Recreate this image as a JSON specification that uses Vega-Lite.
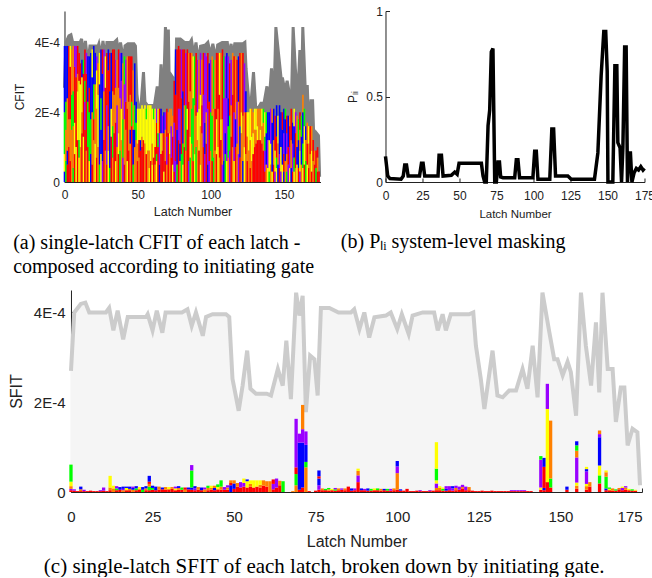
{
"$schema": "https://vega.github.io/schema/vega-lite/v6.json",
"padding": {"left": 8, "top": 5, "right": 0, "bottom": 0},
"background": "white",
"config": {
  "view": {"stroke": null},
  "scale": {"continuousPadding": 0},
  "axis": {"grid": false, "domainColor": "#222", "tickColor": "#222", "labelColor": "#222", "titleColor": "#222", "labelFont": "Liberation Sans", "titleFont": "Liberation Sans", "titleFontWeight": "normal", "domainWidth": 1, "labelOverlap": false, "labelFlush": false},
  "title": {"font": "Liberation Serif", "fontWeight": "normal", "color": "#000"}
},
"datasets": {
"env": [{"x":0,"v":2.7},{"x":1,"v":4.0},{"x":3,"v":4.19},{"x":4.4,"v":4.22},{"x":5.6,"v":4.0},{"x":10.7,"v":4.0},{"x":11.7,"v":4.1},{"x":13,"v":3.6},{"x":14.3,"v":4.04},{"x":16,"v":3.4},{"x":17.4,"v":3.9},{"x":23,"v":3.9},{"x":23.5,"v":3.96},{"x":25,"v":3.6},{"x":26.3,"v":4.04},{"x":28,"v":3.55},{"x":29,"v":4.0},{"x":34,"v":4.0},{"x":35.7,"v":4.07},{"x":37,"v":3.7},{"x":38.3,"v":4.0},{"x":40.4,"v":3.48},{"x":41.4,"v":3.9},{"x":43.4,"v":3.96},{"x":47.5,"v":3.96},{"x":48.5,"v":3.9},{"x":49.5,"v":2.52},{"x":51.4,"v":1.81},{"x":52.6,"v":2.37},{"x":54,"v":3.15},{"x":55,"v":2.3},{"x":56.7,"v":2.19},{"x":60,"v":2.19},{"x":61.3,"v":2.15},{"x":63.4,"v":2.74},{"x":64.9,"v":2.37},{"x":66,"v":3.37},{"x":67.4,"v":2.07},{"x":69,"v":4.44},{"x":70,"v":3.93},{"x":71,"v":4.37},{"x":72,"v":1.78},{"x":73.3,"v":3.04},{"x":74.6,"v":2.96},{"x":75.6,"v":2.15},{"x":76.6,"v":4.1},{"x":79.2,"v":4.1},{"x":82,"v":4.0},{"x":85.8,"v":4.0},{"x":86.8,"v":4.07},{"x":88.4,"v":3.63},{"x":89.9,"v":4.0},{"x":91.4,"v":3.44},{"x":93,"v":3.89},{"x":96.5,"v":3.93},{"x":98,"v":4.0},{"x":100,"v":3.63},{"x":101.4,"v":3.96},{"x":103.5,"v":3.52},{"x":104.7,"v":3.93},{"x":107.8,"v":4.0},{"x":111.3,"v":4.0},{"x":112.4,"v":3.6},{"x":113.9,"v":3.96},{"x":114.9,"v":3.6},{"x":116.4,"v":3.96},{"x":122,"v":3.96},{"x":123.3,"v":4.0},{"x":124.1,"v":3.26},{"x":125.6,"v":2.52},{"x":126.7,"v":1.85},{"x":127.7,"v":2.37},{"x":129.2,"v":3.15},{"x":130.7,"v":2.15},{"x":132.3,"v":2.11},{"x":134.3,"v":2.26},{"x":136.4,"v":2.26},{"x":138.4,"v":2.74},{"x":139.9,"v":2.3},{"x":141.5,"v":3.26},{"x":143,"v":2.11},{"x":144.5,"v":4.44},{"x":146.6,"v":3.56},{"x":148.1,"v":2.96},{"x":149.1,"v":2.96},{"x":150.7,"v":2.6},{"x":152.2,"v":2.9},{"x":153.2,"v":2.67},{"x":154.8,"v":1.7},{"x":156.3,"v":4.44},{"x":157.8,"v":3.26},{"x":159.4,"v":2.37},{"x":160.9,"v":3.78},{"x":161.9,"v":2.22},{"x":162.9,"v":4.44},{"x":164.5,"v":2.74},{"x":166,"v":2.74},{"x":167,"v":1.56},{"x":168.5,"v":2.33},{"x":169.6,"v":2.33},{"x":170.6,"v":1.04},{"x":172.1,"v":1.41},{"x":173.6,"v":1.33},{"x":174.4,"v":0.15}],
"sa": [
{"x":0,"c":["b","y","g","b"],"v":[0.3,0.5,1.2,1.9]},
{"x":1,"c":["g","o","g","b"],"v":[0.6,0.9,0.8,1.6]},
{"x":2,"c":["r","b","o","b"],"v":[0.5,0.4,1.5,1.5]},
{"x":3,"c":["r","o","r"],"v":[1.0,0.8,2.1]},
{"x":4,"c":["r","o","r","y"],"v":[0.6,1.2,1.5,0.6]},
{"x":5,"c":["o","g","o"],"v":[1.5,1.0,1.3]},
{"x":6,"c":["g","o","g","o"],"v":[0.4,1.2,1.0,1.3]},
{"x":7,"c":["r","y","r","p"],"v":[0.8,0.9,1.6,0.6]},
{"x":8,"c":["y","r","p"],"v":[1.0,2.0,0.9]},
{"x":9,"c":["r","y","o","r"],"v":[1.2,1.4,0.5,0.8]},
{"x":10,"c":["y","g","y","r"],"v":[0.7,0.5,1.7,0.8]},
{"x":11,"c":["o","y","r"],"v":[1.0,1.8,0.6]},
{"x":12,"c":["r","o","y","b"],"v":[1.4,0.6,1.0,0.5]},
{"x":13,"c":["y","r","g"],"v":[1.3,1.8,0.4]},
{"x":14,"c":["r","p","g","r"],"v":[1.5,0.8,0.6,0.9]},
{"x":15,"c":["o","r","p"],"v":[0.9,2.2,0.6]},
{"x":16,"c":["r","g","b"],"v":[1.0,1.3,1.3]},
{"x":17,"c":["y","g","r","b"],"v":[0.6,1.4,0.7,0.9]},
{"x":18,"c":["b","g","b"],"v":[0.8,1.0,1.9]},
{"x":19,"c":["r","o","b","y"],"v":[0.5,1.5,1.0,0.8]},
{"x":20,"c":["o","r","g","b"],"v":[1.2,0.6,1.0,1.1]},
{"x":21,"c":["y","o","b"],"v":[1.1,1.7,0.9]},
{"x":22,"c":["r","o","y","p"],"v":[0.7,1.4,1.1,0.4]},
{"x":23,"c":["o","y","o"],"v":[1.0,1.5,0.9]},
{"x":24,"c":["g","b","y"],"v":[0.5,2.3,0.9]},
{"x":25,"c":["y","b","g","b"],"v":[0.8,0.7,0.9,1.4]},
{"x":26,"c":["p","b","r"],"v":[0.6,2.5,0.7]},
{"x":27,"c":["r","o","p"],"v":[1.2,1.4,1.2]},
{"x":28,"c":["o","r","y"],"v":[0.9,1.8,0.9]},
{"x":29,"c":["r","p","r"],"v":[0.5,1.7,1.5]},
{"x":30,"c":["y","o","r","b"],"v":[0.9,0.7,1.6,0.6]},
{"x":31,"c":["g","b","r"],"v":[0.4,2.2,1.1]},
{"x":32,"c":["r","y","b"],"v":[1.3,0.8,1.6]},
{"x":33,"c":["o","g","o","r"],"v":[0.7,0.9,1.0,1.2]},
{"x":34,"c":["r","o","r"],"v":[1.4,1.1,1.3]},
{"x":35,"c":["y","r","o","p"],"v":[0.6,1.1,1.0,0.8]},
{"x":36,"c":["o","p","o"],"v":[1.0,1.2,1.3]},
{"x":37,"c":["r","y","o","r"],"v":[0.8,0.6,1.3,1.1]},
{"x":38,"c":["g","o","p"],"v":[0.9,1.5,1.3]},
{"x":39,"c":["o","y","p","b"],"v":[1.2,0.9,0.8,0.8]},
{"x":40,"c":["p","g","o"],"v":[0.7,1.1,1.6]},
{"x":41,"c":["r","o","p","g"],"v":[0.5,1.3,1.0,0.8]},
{"x":42,"c":["o","r","p"],"v":[1.5,0.8,1.2]},
{"x":43,"c":["y","r","o"],"v":[0.6,1.5,1.5]},
{"x":44,"c":["r","o","r"],"v":[0.9,1.4,1.3]},
{"x":45,"c":["o","b","o","r"],"v":[1.1,0.4,1.0,1.1]},
{"x":46,"c":["r","g","r"],"v":[1.6,0.7,1.3]},
{"x":47,"c":["g","b","o"],"v":[0.5,1.0,1.7]},
{"x":48,"c":["o","b","g","b"],"v":[1.0,0.5,0.7,1.2]},
{"x":49,"c":["o","g","b"],"v":[1.2,0.5,0.6]},
{"x":50,"c":["r","o","y"],"v":[0.6,0.5,1.0]},
{"x":51,"c":["o","r","y"],"v":[0.7,0.5,0.9]},
{"x":52,"c":["r","b","y"],"v":[0.9,0.3,0.9]},
{"x":53,"c":["r","o","y"],"v":[1.0,0.3,0.9]},
{"x":54,"c":["r","y"],"v":[1.2,0.9]},
{"x":55,"c":["o","y"],"v":[1.1,1.1]},
{"x":56,"c":["r","y","g"],"v":[0.8,1.0,0.3]},
{"x":57,"c":["o","y"],"v":[0.9,1.3]},
{"x":58,"c":["y","o","y"],"v":[0.4,0.5,1.3]},
{"x":59,"c":["r","y"],"v":[0.6,1.6]},
{"x":60,"c":["y","o","y"],"v":[0.5,0.6,1.0]},
{"x":61,"c":["r","y","g"],"v":[0.7,1.1,0.3]},
{"x":62,"c":["o","r","y"],"v":[0.5,0.5,1.1]},
{"x":63,"c":["y","g","r","p"],"v":[0.6,0.2,0.9,0.4]},
{"x":64,"c":["r","g","y"],"v":[1.0,0.4,0.7]},
{"x":65,"c":["b","p","r"],"v":[0.5,0.9,0.7]},
{"x":66,"c":["r","y","b"],"v":[0.8,0.6,0.7]},
{"x":67,"c":["r","o","p"],"v":[0.9,0.5,0.5]},
{"x":68,"c":["y","r","b"],"v":[0.3,1.1,0.6]},
{"x":69,"c":["r","o","p"],"v":[0.6,0.9,0.5]},
{"x":70,"c":["o","p","r"],"v":[0.5,0.8,0.8]},
{"x":71,"c":["r","o"],"v":[1.4,0.6]},
{"x":72,"c":["o","y","o"],"v":[0.8,0.6,0.7]},
{"x":73,"c":["r","p","o"],"v":[0.7,0.9,0.5]},
{"x":74,"c":["y","r","o"],"v":[0.5,0.8,0.6]},
{"x":75,"c":["r","p","r"],"v":[0.3,1.4,1.2]},
{"x":76,"c":["p","r","b"],"v":[0.6,1.9,1.3]},
{"x":77,"c":["g","b","r"],"v":[0.5,1.0,2.3]},
{"x":78,"c":["r","p","r"],"v":[1.2,0.9,1.8]},
{"x":79,"c":["o","b","p","r"],"v":[0.6,0.5,1.0,1.7]},
{"x":80,"c":["g","r","p"],"v":[0.8,1.6,1.4]},
{"x":81,"c":["y","g","b","r"],"v":[0.5,0.6,1.5,1.2]},
{"x":82,"c":["r","o","r"],"v":[1.0,1.2,1.6]},
{"x":83,"c":["o","g","p"],"v":[0.9,1.3,1.5]},
{"x":84,"c":["r","y","r"],"v":[1.5,0.6,1.7]},
{"x":85,"c":["p","r","o"],"v":[0.6,1.7,1.4]},
{"x":86,"c":["g","y","o","r"],"v":[0.7,0.6,1.3,1.1]},
{"x":87,"c":["o","g","o"],"v":[1.1,1.0,1.6]},
{"x":88,"c":["r","g","y"],"v":[0.6,1.8,1.2]},
{"x":89,"c":["y","o","g"],"v":[0.8,1.4,1.4]},
{"x":90,"c":["g","o","r"],"v":[1.0,0.9,1.8]},
{"x":91,"c":["o","y","p"],"v":[1.2,0.8,1.5]},
{"x":92,"c":["r","y","o"],"v":[0.9,1.2,1.4]},
{"x":93,"c":["y","o","y","p"],"v":[0.5,1.1,0.9,1.2]},
{"x":94,"c":["o","r","o"],"v":[1.4,0.8,1.3]},
{"x":95,"c":["r","p","r"],"v":[1.0,1.5,1.2]},
{"x":96,"c":["p","b","p"],"v":[0.8,0.9,2.0]},
{"x":97,"c":["r","o","p"],"v":[1.1,0.9,1.6]},
{"x":98,"c":["b","p","r"],"v":[0.5,1.6,1.6]},
{"x":99,"c":["p","r","b"],"v":[0.6,1.7,1.1]},
{"x":100,"c":["o","g","p"],"v":[0.9,1.1,1.5]},
{"x":101,"c":["r","g","o"],"v":[0.6,1.3,1.7]},
{"x":102,"c":["g","o","g"],"v":[0.7,1.4,1.4]},
{"x":103,"c":["o","r","o"],"v":[0.9,1.2,1.4]},
{"x":104,"c":["r","y","r"],"v":[0.8,1.0,1.9]},
{"x":105,"c":["y","o","r"],"v":[1.0,1.1,1.6]},
{"x":106,"c":["o","r","y"],"v":[0.7,1.8,1.2]},
{"x":107,"c":["r","y","o"],"v":[1.2,0.6,1.9]},
{"x":108,"c":["p","o","r"],"v":[0.5,1.3,2.0]},
{"x":109,"c":["b","p","g"],"v":[0.6,1.8,1.2]},
{"x":110,"c":["g","b","p"],"v":[0.8,0.6,2.2]},
{"x":111,"c":["y","p","b"],"v":[0.6,1.8,1.3]},
{"x":112,"c":["o","g","b","p"],"v":[0.7,0.9,0.8,1.2]},
{"x":113,"c":["p","g","r"],"v":[0.9,1.0,1.5]},
{"x":114,"c":["r","o","p"],"v":[1.3,0.9,1.3]},
{"x":115,"c":["o","r","o"],"v":[1.0,1.5,1.2]},
{"x":116,"c":["y","p","r"],"v":[0.6,1.4,1.6]},
{"x":117,"c":["r","b","o"],"v":[1.0,0.8,1.8]},
{"x":118,"c":["o","p","r"],"v":[1.1,1.2,1.2]},
{"x":119,"c":["p","o","b"],"v":[0.8,1.5,1.3]},
{"x":120,"c":["r","b","r"],"v":[0.7,0.9,2.1]},
{"x":121,"c":["o","y","o"],"v":[1.4,0.6,1.7]},
{"x":122,"c":["b","o","r"],"v":[0.6,1.3,1.8]},
{"x":123,"c":["y","o","p"],"v":[1.0,1.0,1.4]},
{"x":124,"c":["o","r","b"],"v":[0.8,1.2,0.6]},
{"x":125,"c":["r","o","y"],"v":[0.6,0.7,0.7]},
{"x":126,"c":["o","y"],"v":[0.9,1.1]},
{"x":127,"c":["r","o","y"],"v":[0.4,0.8,0.9]},
{"x":128,"c":["o","y","o"],"v":[0.6,0.7,0.8]},
{"x":129,"c":["r","y","o"],"v":[0.8,0.6,0.6]},
{"x":130,"c":["r","o","y"],"v":[1.0,0.5,0.6]},
{"x":131,"c":["r","o","y"],"v":[1.1,0.4,0.6]},
{"x":132,"c":["r","y","o"],"v":[1.2,0.4,0.5]},
{"x":133,"c":["r","o"],"v":[1.2,0.9]},
{"x":134,"c":["r","y","o"],"v":[1.2,0.3,0.6]},
{"x":135,"c":["r","o","y"],"v":[1.1,0.5,0.5]},
{"x":136,"c":["r","o","g"],"v":[0.9,0.8,0.4]},
{"x":137,"c":["r","p","g","y"],"v":[0.3,0.6,0.4,0.7]},
{"x":138,"c":["o","b","g"],"v":[0.5,0.9,0.6]},
{"x":139,"c":["y","p","b"],"v":[0.4,0.8,0.8]},
{"x":140,"c":["g","y","b"],"v":[0.3,0.9,0.8]},
{"x":141,"c":["o","y","p"],"v":[0.5,0.6,1.0]},
{"x":142,"c":["y","b","o"],"v":[0.3,1.4,0.4]},
{"x":143,"c":["r","o","b"],"v":[0.5,0.7,0.9]},
{"x":144,"c":["p","y","r"],"v":[0.3,0.6,1.0]},
{"x":145,"c":["y","g","r","b"],"v":[0.4,0.3,0.6,0.9]},
{"x":146,"c":["b","o","y"],"v":[0.5,0.6,0.8]},
{"x":147,"c":["r","p","b"],"v":[0.4,0.4,1.4]},
{"x":148,"c":["p","y","b"],"v":[0.3,0.7,1.0]},
{"x":149,"c":["y","b","r"],"v":[0.5,1.0,0.5]},
{"x":150,"c":["b","r","p","b"],"v":[0.3,0.5,0.6,0.7]},
{"x":151,"c":["o","b","g"],"v":[0.6,1.2,0.3]},
{"x":152,"c":["g","o","p","r"],"v":[0.3,0.5,0.6,0.5]},
{"x":153,"c":["p","r","b"],"v":[0.5,0.5,0.9]},
{"x":154,"c":["y","p","r","o"],"v":[0.4,0.6,0.6,0.3]},
{"x":155,"c":["b","o","r"],"v":[0.4,0.8,0.9]},
{"x":156,"c":["r","p","b"],"v":[0.3,0.8,0.6]},
{"x":157,"c":["y","g","b","y"],"v":[0.3,0.4,0.9,0.5]},
{"x":158,"c":["o","r","p"],"v":[0.4,1.0,0.6]},
{"x":159,"c":["y","b","o"],"v":[0.5,0.5,0.9]},
{"x":160,"c":["r","b","g"],"v":[0.4,0.8,0.6]},
{"x":161,"c":["p","y","o","r"],"v":[0.3,0.6,0.6,0.5]},
{"x":162,"c":["o","b","g"],"v":[0.5,0.8,0.6]},
{"x":163,"c":["y","g","b","o"],"v":[0.4,0.7,0.9,0.5]},
{"x":164,"c":["r","y","g"],"v":[0.5,1.1,0.5]},
{"x":165,"c":["g","o","b"],"v":[0.6,0.6,0.4]},
{"x":166,"c":["y","r","o"],"v":[0.5,0.6,0.6]},
{"x":167,"c":["r","o","y"],"v":[0.4,0.7,0.5]},
{"x":168,"c":["o","r"],"v":[0.8,0.8]},
{"x":169,"c":["r","y","o"],"v":[0.3,0.6,0.7]},
{"x":170,"c":["o","r"],"v":[0.6,0.6]},
{"x":171,"c":["r","o"],"v":[0.5,0.4]},
{"x":172,"c":["g","r"],"v":[0.4,0.5]},
{"x":173,"c":["r","o","r"],"v":[0.3,0.4,0.3]},
{"x":174,"c":["r"],"v":[0.3]}
],
"sb": [{"x":0,"v":0.15},{"x":1.5,"v":0.035},{"x":3,"v":0.02},{"x":10.5,"v":0.016},{"x":12,"v":0.035},{"x":13,"v":0.1},{"x":14.2,"v":0.1},{"x":15.3,"v":0.035},{"x":23,"v":0.035},{"x":24.3,"v":0.11},{"x":25.4,"v":0.11},{"x":26.5,"v":0.035},{"x":35.5,"v":0.035},{"x":36.2,"v":0.156},{"x":37.8,"v":0.156},{"x":38.9,"v":0.035},{"x":44.5,"v":0.039},{"x":46.8,"v":0.058},{"x":48.4,"v":0.045},{"x":49.7,"v":0.109},{"x":64.8,"v":0.109},{"x":65.9,"v":0.035},{"x":67,"v":0},{"x":68.1,"v":0},{"x":69.3,"v":0.33},{"x":70.4,"v":0.42},{"x":71.5,"v":0.76},{"x":72.6,"v":0.78},{"x":73.8,"v":0},{"x":74.9,"v":0},{"x":76,"v":0.117},{"x":77,"v":0.117},{"x":77.8,"v":0.03},{"x":79.4,"v":0.025},{"x":87.3,"v":0.025},{"x":88.4,"v":0.13},{"x":89.5,"v":0.13},{"x":90.6,"v":0.025},{"x":99.6,"v":0.025},{"x":100.8,"v":0.18},{"x":101.9,"v":0.18},{"x":103,"v":0.016},{"x":111,"v":0.016},{"x":112.4,"v":0.31},{"x":113.6,"v":0.31},{"x":114.9,"v":0.035},{"x":123.2,"v":0.035},{"x":125.5,"v":0.016},{"x":141.2,"v":0.016},{"x":143.5,"v":0.17},{"x":145.7,"v":0.62},{"x":147.5,"v":0.88},{"x":148.8,"v":0.88},{"x":149.8,"v":0.65},{"x":150.3,"v":0},{"x":153.6,"v":0},{"x":155,"v":0.68},{"x":156.3,"v":0.68},{"x":157,"v":0.23},{"x":158.5,"v":0.2},{"x":159.5,"v":0},{"x":160.4,"v":0.2},{"x":161.6,"v":0.79},{"x":162.6,"v":0.79},{"x":163.5,"v":0},{"x":164.5,"v":0.17},{"x":165.5,"v":0.17},{"x":166.5,"v":0},{"x":168,"v":0.055},{"x":169.5,"v":0.08},{"x":171,"v":0.07},{"x":172.5,"v":0.09},{"x":174,"v":0.07},{"x":175,"v":0.08}],
"sc": [
{"x":0,"c":["r","p","o","y","g"],"v":[0.04,0.03,0.06,0.1,0.38]},
{"x":1,"c":["r","p"],"v":[0.03,0.03]},
{"x":2,"c":["r"],"v":[0.02]},
{"x":3,"c":["r","o","b"],"v":[0.02,0.04,0.06]},
{"x":4,"c":["r","p"],"v":[0.02,0.03]},
{"x":5,"c":["r"],"v":[0.02]},
{"x":6,"c":["r"],"v":[0.03]},
{"x":7,"c":["r"],"v":[0.02]},
{"x":8,"c":["r"],"v":[0.02]},
{"x":9,"c":["r","p"],"v":[0.02,0.02]},
{"x":10,"c":["r","p"],"v":[0.03,0.07]},
{"x":11,"c":["r"],"v":[0.02]},
{"x":12,"c":["r","o","y"],"v":[0.04,0.06,0.26]},
{"x":13,"c":["o","y"],"v":[0.08,0.06]},
{"x":14,"c":["r","g","p"],"v":[0.04,0.04,0.05]},
{"x":15,"c":["r","b"],"v":[0.05,0.06]},
{"x":16,"c":["o","p","b"],"v":[0.04,0.03,0.05]},
{"x":17,"c":["r","y","b"],"v":[0.04,0.05,0.03]},
{"x":18,"c":["r","o","b"],"v":[0.04,0.03,0.05]},
{"x":19,"c":["o","b","p"],"v":[0.05,0.04,0.03]},
{"x":20,"c":["r","g","b"],"v":[0.04,0.04,0.05]},
{"x":21,"c":["r","y"],"v":[0.06,0.05]},
{"x":22,"c":["g","b"],"v":[0.05,0.06]},
{"x":23,"c":["r","o","b"],"v":[0.04,0.04,0.05]},
{"x":24,"c":["r","g","o","r","b"],"v":[0.04,0.08,0.06,0.05,0.13]},
{"x":25,"c":["r","g","b"],"v":[0.05,0.04,0.05]},
{"x":26,"c":["r","b"],"v":[0.04,0.08]},
{"x":27,"c":["r","o"],"v":[0.05,0.07]},
{"x":28,"c":["r","b"],"v":[0.06,0.04]},
{"x":29,"c":["r","o"],"v":[0.05,0.06]},
{"x":30,"c":["r","y"],"v":[0.06,0.05]},
{"x":31,"c":["r","o"],"v":[0.07,0.04]},
{"x":32,"c":["r","y","p"],"v":[0.04,0.04,0.04]},
{"x":33,"c":["r","o","b"],"v":[0.05,0.04,0.04]},
{"x":34,"c":["r","g"],"v":[0.05,0.05]},
{"x":35,"c":["o","r"],"v":[0.05,0.05]},
{"x":36,"c":["r","b"],"v":[0.06,0.04]},
{"x":37,"c":["r","b","g","p"],"v":[0.05,0.05,0.38,0.12]},
{"x":38,"c":["r","p","b"],"v":[0.04,0.04,0.05]},
{"x":39,"c":["r","o"],"v":[0.05,0.06]},
{"x":40,"c":["r","b"],"v":[0.04,0.06]},
{"x":41,"c":["o","p"],"v":[0.06,0.04]},
{"x":42,"c":["r","o","g"],"v":[0.04,0.05,0.05]},
{"x":43,"c":["r","o","y"],"v":[0.05,0.04,0.05]},
{"x":44,"c":["r","b","o"],"v":[0.04,0.05,0.05]},
{"x":45,"c":["r","y","g"],"v":[0.06,0.05,0.06]},
{"x":46,"c":["r","o","g"],"v":[0.05,0.07,0.14]},
{"x":47,"c":["r","p"],"v":[0.05,0.06]},
{"x":48,"c":["r","o","p"],"v":[0.05,0.05,0.05]},
{"x":49,"c":["b","r","o"],"v":[0.15,0.05,0.06]},
{"x":50,"c":["r","b","o"],"v":[0.07,0.12,0.07]},
{"x":51,"c":["r","o"],"v":[0.12,0.08]},
{"x":52,"c":["r","p"],"v":[0.1,0.12]},
{"x":53,"c":["r","p","y"],"v":[0.12,0.08,0.1]},
{"x":54,"c":["r","y","b"],"v":[0.1,0.14,0.04]},
{"x":55,"c":["r","o","y"],"v":[0.12,0.06,0.08]},
{"x":56,"c":["r","y"],"v":[0.1,0.16]},
{"x":57,"c":["r","y"],"v":[0.12,0.14]},
{"x":58,"c":["r","o","y"],"v":[0.1,0.06,0.1]},
{"x":59,"c":["r","o"],"v":[0.14,0.12]},
{"x":60,"c":["r","o"],"v":[0.12,0.12]},
{"x":61,"c":["o"],"v":[0.24]},
{"x":62,"c":["r","p","r"],"v":[0.06,0.12,0.1]},
{"x":63,"c":["r","p"],"v":[0.1,0.2]},
{"x":64,"c":["r","o"],"v":[0.15,0.1]},
{"x":65,"c":["g"],"v":[0.24]},
{"x":68,"c":["o"],"v":[0.02]},
{"x":69,"c":["o","g","r","p"],"v":[0.15,0.25,0.15,1.08]},
{"x":70,"c":["r","b","p"],"v":[0.05,1.05,0.2]},
{"x":71,"c":["r","b","p","o"],"v":[0.1,1.0,0.3,0.54]},
{"x":72,"c":["o","g","b","p"],"v":[0.55,0.12,0.38,0.3]},
{"x":73,"c":["r"],"v":[0.02]},
{"x":75,"c":["r"],"v":[0.03]},
{"x":76,"c":["r","p","b","r","b"],"v":[0.05,0.1,0.15,0.05,0.13]},
{"x":77,"c":["r","o"],"v":[0.04,0.04]},
{"x":78,"c":["r","g"],"v":[0.04,0.03]},
{"x":79,"c":["r","o","g"],"v":[0.03,0.03,0.03]},
{"x":80,"c":["r","y"],"v":[0.04,0.03]},
{"x":81,"c":["r","g","p"],"v":[0.03,0.03,0.03]},
{"x":82,"c":["r","o"],"v":[0.04,0.04]},
{"x":83,"c":["r","p"],"v":[0.05,0.03]},
{"x":84,"c":["r","o"],"v":[0.04,0.04]},
{"x":85,"c":["r"],"v":[0.12]},
{"x":86,"c":["r","b"],"v":[0.03,0.05]},
{"x":87,"c":["r","p"],"v":[0.04,0.04]},
{"x":88,"c":["r","p","o","y"],"v":[0.22,0.15,0.1,0.05]},
{"x":89,"c":["r","b"],"v":[0.04,0.04]},
{"x":90,"c":["r","p"],"v":[0.04,0.03]},
{"x":91,"c":["r","b"],"v":[0.03,0.05]},
{"x":92,"c":["r","g"],"v":[0.03,0.04]},
{"x":93,"c":["r","y"],"v":[0.04,0.04]},
{"x":94,"c":["r","g"],"v":[0.04,0.04]},
{"x":95,"c":["r","o"],"v":[0.03,0.04]},
{"x":96,"c":["r","b"],"v":[0.04,0.03]},
{"x":97,"c":["r","g"],"v":[0.03,0.04]},
{"x":98,"c":["r","p"],"v":[0.03,0.04]},
{"x":99,"c":["r","o"],"v":[0.04,0.04]},
{"x":100,"c":["r","o","p","b"],"v":[0.05,0.37,0.15,0.12]},
{"x":101,"c":["r","b"],"v":[0.03,0.03]},
{"x":102,"c":["r"],"v":[0.03]},
{"x":103,"c":["r"],"v":[0.07]},
{"x":104,"c":["r"],"v":[0.02]},
{"x":105,"c":["r"],"v":[0.02]},
{"x":106,"c":["r"],"v":[0.03]},
{"x":107,"c":["r","p"],"v":[0.02,0.02]},
{"x":108,"c":["r"],"v":[0.02]},
{"x":109,"c":["r"],"v":[0.02]},
{"x":110,"c":["r","p"],"v":[0.02,0.02]},
{"x":111,"c":["r"],"v":[0.03]},
{"x":112,"c":["r","o","p","y","g","y"],"v":[0.04,0.05,0.1,0.07,0.26,0.59]},
{"x":113,"c":["r","o","y"],"v":[0.04,0.05,0.04]},
{"x":114,"c":["r","g","y"],"v":[0.03,0.04,0.03]},
{"x":115,"c":["r","b","p"],"v":[0.03,0.04,0.06]},
{"x":116,"c":["r","p"],"v":[0.04,0.09]},
{"x":117,"c":["r","p","b"],"v":[0.03,0.05,0.05]},
{"x":118,"c":["r","o","p"],"v":[0.04,0.05,0.05]},
{"x":119,"c":["r","p"],"v":[0.05,0.07]},
{"x":120,"c":["r","o","p"],"v":[0.08,0.03,0.05]},
{"x":121,"c":["r","p"],"v":[0.04,0.08]},
{"x":122,"c":["r","o"],"v":[0.04,0.07]},
{"x":123,"c":["r"],"v":[0.03]},
{"x":124,"c":["r"],"v":[0.02]},
{"x":125,"c":["r"],"v":[0.02]},
{"x":126,"c":["r"],"v":[0.03]},
{"x":127,"c":["r"],"v":[0.02]},
{"x":128,"c":["r"],"v":[0.02]},
{"x":129,"c":["r"],"v":[0.03]},
{"x":130,"c":["r"],"v":[0.02]},
{"x":131,"c":["r"],"v":[0.02]},
{"x":132,"c":["r"],"v":[0.02]},
{"x":133,"c":["r"],"v":[0.02]},
{"x":134,"c":["r"],"v":[0.02]},
{"x":135,"c":["r","p"],"v":[0.02,0.02]},
{"x":136,"c":["r","p"],"v":[0.02,0.02]},
{"x":137,"c":["r","p"],"v":[0.02,0.02]},
{"x":138,"c":["r","p"],"v":[0.02,0.02]},
{"x":139,"c":["r","p"],"v":[0.02,0.02]},
{"x":140,"c":["r"],"v":[0.02]},
{"x":141,"c":["r"],"v":[0.02]},
{"x":144,"c":["r","y","p","g"],"v":[0.05,0.05,0.62,0.08]},
{"x":145,"c":["r","b","r","b"],"v":[0.04,0.05,0.47,0.2]},
{"x":146,"c":["r","y","p"],"v":[0.22,1.63,0.56]},
{"x":147,"c":["r","g","o"],"v":[0.1,0.2,1.29]},
{"x":152,"c":["r","b"],"v":[0.05,0.07]},
{"x":155,"c":["r","o","y","p","o","g","b"],"v":[0.07,0.07,0.07,0.56,0.15,0.12,0.09]},
{"x":158,"c":["r","o","y","p","b","y"],"v":[0.05,0.08,0.05,0.28,0.05,0.05]},
{"x":159,"c":["r","o"],"v":[0.12,0.1]},
{"x":162,"c":["r","g","y","b","p","o"],"v":[0.19,0.18,0.22,0.63,0.07,0.08]},
{"x":164,"c":["r","b","g","o","y"],"v":[0.04,0.04,0.26,0.1,0.04]},
{"x":165,"c":["r","y","g"],"v":[0.04,0.03,0.03]},
{"x":166,"c":["r","o"],"v":[0.03,0.05]},
{"x":167,"c":["r","g"],"v":[0.03,0.03]},
{"x":168,"c":["r","o"],"v":[0.06,0.03]},
{"x":169,"c":["r","p","y"],"v":[0.04,0.05,0.03]},
{"x":170,"c":["r","o","p"],"v":[0.05,0.05,0.03]},
{"x":171,"c":["r","y"],"v":[0.04,0.03]},
{"x":172,"c":["r","g"],"v":[0.03,0.03]},
{"x":173,"c":["r","y"],"v":[0.03,0.02]}
]
},
"spacing": 7,
"center": true,
"vconcat": [
 {"hconcat": [
  {
   "width": 256, "height": 171,
   "title": {"text": ["(a) single-latch CFIT of each latch -", "composed according to initiating gate"], "orient": "bottom", "anchor": "start", "frame": "bounds", "fontSize": 20, "lineHeight": 24, "offset": 15},
   "layer": [
    {"data": {"name": "env"}, "mark": {"type": "area", "color": "#808080"},
     "encoding": {
      "x": {"field": "x", "type": "quantitative", "scale": {"domain": [0, 175], "nice": false, "zero": false, "padding": 0},
            "axis": {"values": [0,25,50,75,100,125,150,175], "labelOverlap": false, "title": "Latch Number", "labelFontSize": 12, "titleFontSize": 12.5, "tickSize": -4, "labelPadding": 11, "titlePadding": 5}},
      "y": {"field": "v", "type": "quantitative", "scale": {"domain": [0, 4.9], "nice": false},
            "axis": {"values": [0, 2, 4], "labelOverlap": false, "labelExpr": "datum.value == 0 ? '0' : datum.value + 'E-4'", "title": "CFIT", "labelFontSize": 12, "titleFontSize": 12, "tickSize": -4, "labelPadding": 9, "titlePadding": 8}}
     }},
    {"data": {"name": "env"}, "mark": {"type": "line", "color": "#808080", "strokeWidth": 3},
     "encoding": {"x": {"field": "x", "type": "quantitative"}, "y": {"field": "v", "type": "quantitative"}}},
    {"data": {"name": "sa"},
     "transform": [{"flatten": ["c", "v"]}, {"window": [{"op": "row_number", "as": "k"}], "groupby": ["x"]}, {"stack": "v", "groupby": ["x"], "sort": [{"field": "k"}], "as": ["y0", "y1"]}],
     "mark": {"type": "bar", "width": 1.6},
     "encoding": {
      "x": {"field": "x", "type": "quantitative"},
      "y": {"field": "y0", "type": "quantitative"},
      "y2": {"field": "y1"},
      "color": {"field": "c", "type": "nominal", "scale": {"domain": ["r","o","y","g","b","p"], "range": ["#ff0000","#ff8000","#ffff00","#00ff00","#0000ff","#9900ff"]}, "legend": null}
     }}
   ]
  },
  {
   "width": 259, "height": 171,
   "title": {"text": "(b) Pₗᵢ system-level masking", "orient": "bottom", "anchor": "start", "frame": "bounds", "fontSize": 20, "offset": 12, "dx": -6},
   "data": {"name": "sb"},
   "mark": {"type": "line", "color": "#000", "strokeWidth": 3.5},
   "encoding": {
    "x": {"field": "x", "type": "quantitative", "scale": {"domain": [0, 175], "nice": false, "zero": false},
          "axis": {"values": [0,25,50,75,100,125,150,175], "labelOverlap": false, "title": "Latch Number", "labelFontSize": 12, "titleFontSize": 11.5, "tickSize": -4, "labelPadding": 12, "titlePadding": 7}},
    "y": {"field": "v", "type": "quantitative", "scale": {"domain": [0, 1], "nice": false},
          "axis": {"values": [0, 0.5, 1], "format": "~g", "title": "Pₗᵢ", "labelFontSize": 12, "titleFontSize": 12, "tickSize": -4, "labelPadding": 7, "titlePadding": 6}}
   }
  }
 ], "spacing": 14},
 {"vconcat": [
  {
   "width": 571, "height": 202,
   "title": {"text": "(c) single-latch SFIT of each latch, broken down by initiating gate.", "orient": "bottom", "anchor": "middle", "frame": "bounds", "fontSize": 21, "offset": 7, "dx": -4},
   "layer": [
    {"data": {"name": "env"}, "mark": {"type": "area", "color": "#f5f5f5"},
     "encoding": {
      "x": {"field": "x", "type": "quantitative", "scale": {"domain": [0, 175], "nice": false, "zero": false, "padding": 0},
            "axis": {"values": [0,25,50,75,100,125,150,175], "labelOverlap": false, "labelAlign": {"condition": {"test": "datum.value == 175", "value": "right"}, "value": "center"}, "title": "Latch Number", "labelFontSize": 15, "titleFontSize": 16, "tickSize": -4, "labelPadding": 21, "titlePadding": 9}},
      "y": {"field": "v", "type": "quantitative", "scale": {"domain": [0, 4.5], "nice": false},
            "axis": {"values": [0, 2, 4], "labelOverlap": false, "labelExpr": "datum.value == 0 ? '0' : datum.value + 'E-4'", "title": "SFIT", "labelFontSize": 15, "titleFontSize": 16, "tickSize": -5, "labelPadding": 11, "titlePadding": 9}}
     }},
    {"data": {"name": "env"}, "mark": {"type": "line", "color": "#cccccc", "strokeWidth": 4},
     "encoding": {"x": {"field": "x", "type": "quantitative"}, "y": {"field": "v", "type": "quantitative"}}},
    {"data": {"name": "sc"},
     "transform": [{"flatten": ["c", "v"]}, {"window": [{"op": "row_number", "as": "k"}], "groupby": ["x"]}, {"stack": "v", "groupby": ["x"], "sort": [{"field": "k"}], "as": ["y0", "y1"]}],
     "mark": {"type": "bar", "width": 3.3},
     "encoding": {
      "x": {"field": "x", "type": "quantitative"},
      "y": {"field": "y0", "type": "quantitative"},
      "y2": {"field": "y1"},
      "color": {"field": "c", "type": "nominal", "scale": {"domain": ["r","o","y","g","b","p"], "range": ["#ff0000","#ff8000","#ffff00","#00ff00","#0000ff","#9900ff"]}, "legend": null}
     }}
   ]
  }
 ]}
]
}
